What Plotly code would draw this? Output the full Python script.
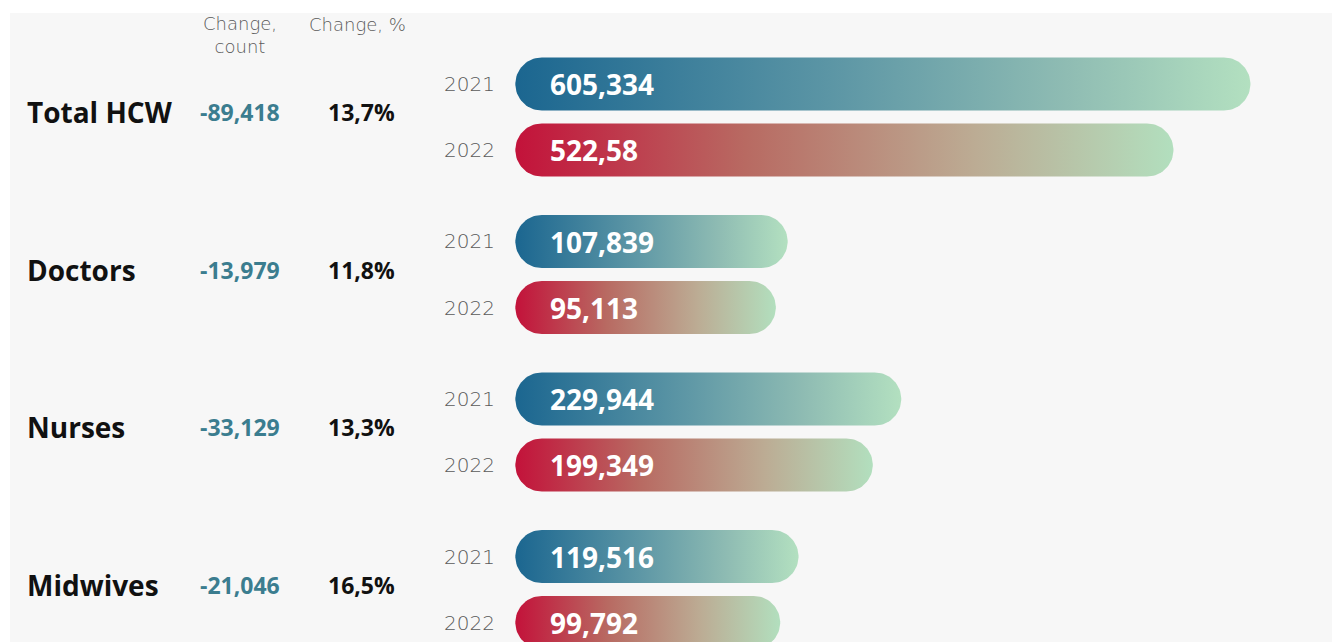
import numpy as np
import plotly.graph_objects as go

# ---------------- data ----------------
categories = ["Total HCW", "Doctors", "Nurses", "Midwives"]
years = ["2021", "2022"]
values_2021 = [605334, 107839, 229944, 119516]
values_2022 = [522580, 95113, 199349, 99792]
labels_2021 = ["605,334", "107,839", "229,944", "119,516"]
labels_2022 = ["522,58", "95,113", "199,349", "99,792"]
change_count = ["-89,418", "-13,979", "-33,129", "-21,046"]
change_pct = ["13,7%", "11,8%", "13,3%", "16,5%"]
header_count = "Change,<br>count"
header_pct = "Change, %"

# ---------------- layout constants ----------------
W, H = 1332, 642
XRANGE = [-739000, 693000]
PX = W / (XRANGE[1] - XRANGE[0])      # pixels per data unit
BAR_BASE = -185000                     # lead-in of each pill (holds the label)
LABEL_PAD = 33 / PX
BAR_H = 53
GROUP_TOP = 117
GROUP_GAP = 157.5
YEAR_OFF = 33

BG = "#f7f7f7"
SCALE_2021 = [[0, "#1b6690"], [0.45, "#5f98a6"], [0.75, "#8fbcb3"], [1, "#b3e0c0"]]
SCALE_2022 = [[0, "#c3123a"], [0.35, "#b86a62"], [0.7, "#bcac94"], [1, "#b2dfbe"]]
TEAL = "#3b7d8f"
GREY = "#5a5a5a"


def pill(x0, x1, yc, h):
    r = h / 2
    rx = r / PX
    t = np.linspace(-np.pi / 2, np.pi / 2, 40)
    xr = (x1 - rx) + rx * np.cos(t)
    yr = yc + r * np.sin(t)
    t2 = np.linspace(np.pi / 2, 3 * np.pi / 2, 40)
    xl = (x0 + rx) + rx * np.cos(t2)
    yl = yc + r * np.sin(t2)
    return np.concatenate([xr, xl, xr[:1]]), np.concatenate([yr, yl, yr[:1]])


fig = go.Figure()
annotations = []


def px_x(p):
    return p / W


def px_y(p):
    return 1 - p / H


series = [
    (years[0], values_2021, labels_2021, SCALE_2021, -YEAR_OFF),
    (years[1], values_2022, labels_2022, SCALE_2022, YEAR_OFF),
]

for i, cat in enumerate(categories):
    mid = GROUP_TOP + i * GROUP_GAP
    for year, vals, labs, scale, off in series:
        yc = mid + off
        xs, ys = pill(BAR_BASE, vals[i], yc, BAR_H)
        fig.add_trace(go.Scatter(
            x=xs, y=ys, mode="lines", fill="toself",
            line=dict(width=0, color="rgba(0,0,0,0)"),
            fillgradient=dict(type="horizontal", colorscale=scale),
            hoverinfo="skip", showlegend=False, name=f"{cat} {year}",
        ))
        annotations.append(dict(
            x=BAR_BASE + LABEL_PAD, y=yc, xref="x", yref="y",
            text=labs[i], showarrow=False, xanchor="left", yanchor="middle",
            font=dict(family="Open Sans", size=28, color="white", weight=700),
        ))
        annotations.append(dict(
            x=px_x(442), y=px_y(yc), xref="paper", yref="paper",
            text=year, showarrow=False, xanchor="left", yanchor="middle",
            font=dict(family="DejaVu Sans", size=20, color=GREY, weight=300),
        ))
    ly = mid - 5
    annotations.append(dict(
        x=px_x(25), y=px_y(ly), xref="paper", yref="paper", text=cat,
        showarrow=False, xanchor="left", yanchor="middle",
        font=dict(family="Open Sans", size=28, color="#111111", weight=700),
    ))
    annotations.append(dict(
        x=px_x(240), y=px_y(ly), xref="paper", yref="paper", text=change_count[i],
        showarrow=False, xanchor="center", yanchor="middle",
        font=dict(family="Open Sans", size=23, color=TEAL, weight=700),
    ))
    annotations.append(dict(
        x=px_x(361), y=px_y(ly), xref="paper", yref="paper", text=change_pct[i],
        showarrow=False, xanchor="center", yanchor="middle",
        font=dict(family="Open Sans", size=23, color="#111111", weight=700),
    ))

annotations.append(dict(
    x=px_x(240), y=px_y(35), xref="paper", yref="paper", text=header_count,
    showarrow=False, xanchor="center", yanchor="middle",
    font=dict(family="DejaVu Sans", size=18, color=GREY, weight=300),
))
annotations.append(dict(
    x=px_x(357), y=px_y(25), xref="paper", yref="paper", text=header_pct,
    showarrow=False, xanchor="center", yanchor="middle",
    font=dict(family="DejaVu Sans", size=18, color=GREY, weight=300),
))

fig.update_layout(
    width=W, height=H,
    margin=dict(l=0, r=0, t=0, b=0, pad=0),
    paper_bgcolor="white", plot_bgcolor="rgba(0,0,0,0)",
    xaxis=dict(range=XRANGE, visible=False, fixedrange=True),
    yaxis=dict(range=[H, 0], visible=False, fixedrange=True),
    annotations=annotations,
    shapes=[dict(type="rect", xref="paper", yref="paper",
                 x0=px_x(10), x1=1, y0=0, y1=px_y(13),
                 fillcolor=BG, line=dict(width=0), layer="below")],
    showlegend=False,
)

fig.write_html("out.html")
